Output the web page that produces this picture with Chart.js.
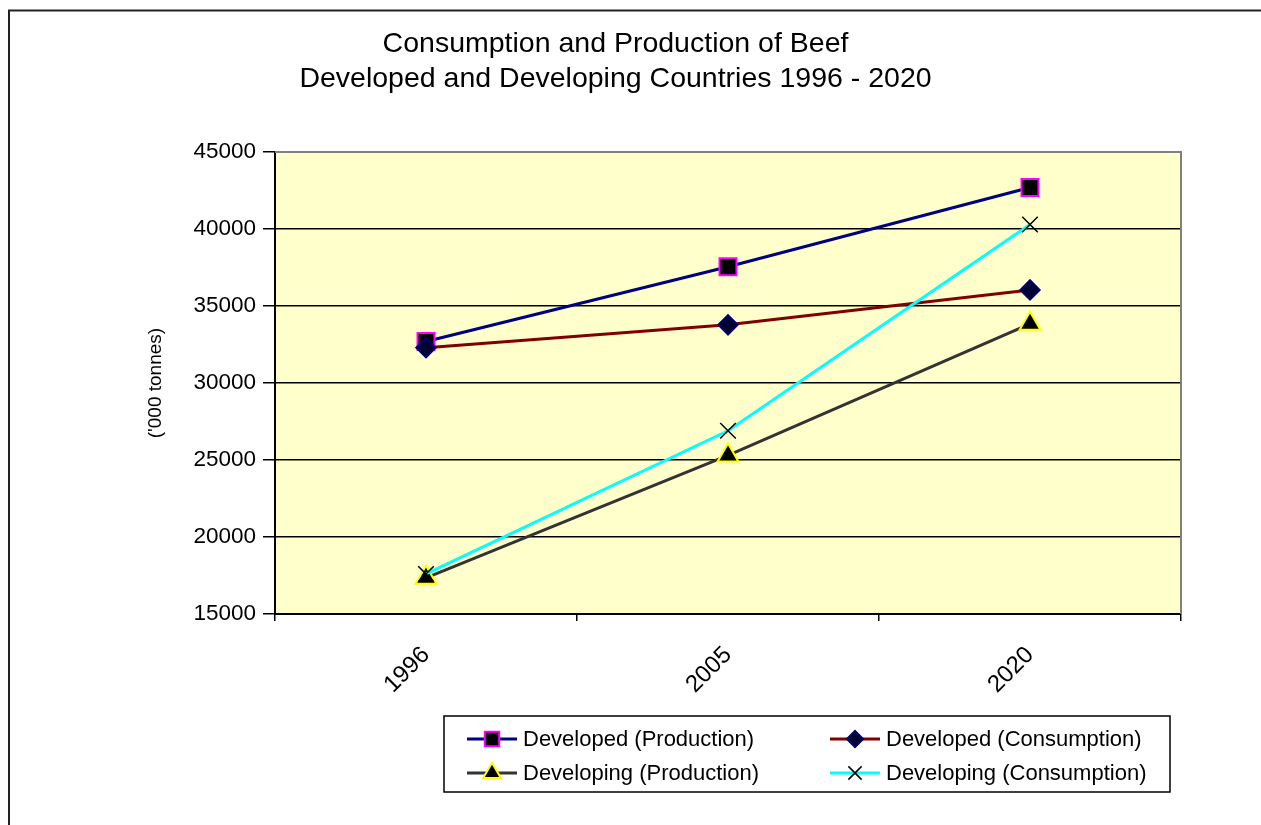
<!DOCTYPE html>
<html>
<head>
<meta charset="utf-8">
<script src="https://cdn.jsdelivr.net/npm/chart.js@4.4.1/dist/chart.umd.min.js"></script>
<style>
  html, body { margin: 0; padding: 0; background: #fff; }
  #wrap { width: 1261px; height: 825px; }
</style>
</head>
<body>
<div id="wrap"><canvas id="beefChart"></canvas></div>
<script>
const years = ["1996", "2005", "2020"];
const developedProduction = [32700, 37550, 42700];
const developedConsumption = [32300, 33780, 36050];
const developingProduction = [17350, 25300, 33850];
const developingConsumption = [17600, 26900, 40300];
const yTickValues = [15000, 20000, 25000, 30000, 35000, 40000, 45000];
const seriesNames = ["Developed (Production)", "Developed (Consumption)", "Developing (Production)", "Developing (Consumption)"];

const FONT = "'Liberation Sans', Arial, sans-serif";
Chart.defaults.font.family = FONT;
Chart.defaults.color = "#000";

// plot background, outer frame, grey top/right border
const frame = {
  id: "frame",
  beforeDraw(chart) {
    const { ctx, chartArea: a } = chart;
    ctx.save();
    ctx.fillStyle = "#FFFFCC";
    ctx.fillRect(a.left, a.top, a.right - a.left, a.bottom - a.top);
    ctx.strokeStyle = "#222";
    ctx.lineWidth = 2;
    ctx.beginPath();
    ctx.moveTo(9, chart.height);
    ctx.lineTo(9, 10.5);
    ctx.lineTo(chart.width, 10.5);
    ctx.stroke();
    ctx.restore();
  },
  beforeDatasetsDraw(chart) {
    const { ctx, chartArea: a } = chart;
    ctx.save();
    ctx.strokeStyle = "#808080";
    ctx.lineWidth = 2;
    ctx.beginPath();
    ctx.moveTo(a.left, a.top);
    ctx.lineTo(a.right, a.top);
    ctx.lineTo(a.right, a.bottom);
    ctx.stroke();
    ctx.restore();
  }
};

// boxed two-column legend like the spreadsheet one
const boxLegend = {
  id: "boxLegend",
  afterDraw(chart) {
    const { ctx } = chart;
    const box = { x: 444, y: 716, w: 726, h: 76 };
    const cols = [467, 830];
    const rows = [739, 773];
    ctx.save();
    ctx.strokeStyle = "#000";
    ctx.lineWidth = 1.5;
    ctx.strokeRect(box.x, box.y, box.w, box.h);
    chart.data.datasets.forEach((ds, i) => {
      const x = cols[i % 2];
      const y = rows[Math.floor(i / 2)];
      ctx.strokeStyle = ds.borderColor;
      ctx.lineWidth = 3;
      ctx.beginPath();
      ctx.moveTo(x, y);
      ctx.lineTo(x + 50, y);
      ctx.stroke();
      ctx.fillStyle = ds.pointBackgroundColor;
      ctx.strokeStyle = ds.pointBorderColor;
      ctx.lineWidth = ds.pointBorderWidth;
      Chart.helpers.drawPoint(ctx, {
        pointStyle: ds.pointStyle,
        radius: ds.pointRadius * 0.85,
        rotation: 0,
        borderWidth: ds.pointBorderWidth
      }, x + 25, y);
      ctx.fillStyle = "#000";
      ctx.font = "22px " + FONT;
      ctx.textBaseline = "middle";
      ctx.textAlign = "left";
      ctx.fillText(ds.label, x + 56, y + 1);
    });
    ctx.restore();
  }
};

new Chart(document.getElementById("beefChart"), {
  type: "line",
  data: {
    labels: years,
    datasets: [
      {
        label: seriesNames[0],
        data: developedProduction,
        borderColor: "#000080",
        borderWidth: 3,
        pointStyle: "rect",
        pointRadius: 12,
        pointBackgroundColor: "#000",
        pointBorderColor: "#FF00FF",
        pointBorderWidth: 2,
        order: 3
      },
      {
        label: seriesNames[1],
        data: developedConsumption,
        borderColor: "#800000",
        borderWidth: 3,
        pointStyle: "rectRot",
        pointRadius: 10,
        pointBackgroundColor: "#000033",
        pointBorderColor: "#000080",
        pointBorderWidth: 1.5,
        order: 2
      },
      {
        label: seriesNames[2],
        data: developingProduction,
        borderColor: "#333333",
        borderWidth: 3,
        pointStyle: "triangle",
        pointRadius: 12,
        pointBackgroundColor: "#000",
        pointBorderColor: "#FFFF00",
        pointBorderWidth: 2,
        order: 1
      },
      {
        label: seriesNames[3],
        data: developingConsumption,
        borderColor: "#00FFFF",
        borderWidth: 3,
        pointStyle: "crossRot",
        pointRadius: 11,
        pointBackgroundColor: "#000",
        pointBorderColor: "#000",
        pointBorderWidth: 1.5,
        order: 0
      }
    ]
  },
  options: {
    responsive: true,
    maintainAspectRatio: false,
    animation: false,
    events: [],
    layout: { padding: { left: 50, right: 80, top: 0, bottom: 125 } },
    elements: { line: { tension: 0 } },
    plugins: {
      legend: { display: false },
      tooltip: { enabled: false },
      title: {
        display: true,
        text: ["Consumption and Production of Beef", "Developed and Developing Countries 1996 - 2020"],
        color: "#000",
        font: { size: 28.5, weight: "normal", lineHeight: 1.23 },
        padding: { top: 27, bottom: 55 }
      }
    },
    scales: {
      x: {
        offset: true,
        grid: { offset: true, drawOnChartArea: false, drawTicks: true, tickLength: 7, color: "#000", lineWidth: 1.5 },
        border: { color: "#000", width: 2 },
        ticks: { minRotation: 45, maxRotation: 45, padding: 20, font: { size: 24 }, color: "#000" },
        afterFit(scale) { scale.height = 86; }
      },
      y: {
        min: 15000,
        max: 45000,
        afterBuildTicks(scale) { scale.ticks = yTickValues.map(v => ({ value: v })); },
        grid: { color: "#000", lineWidth: 1.5, tickLength: 12 },
        border: { color: "#000", width: 2 },
        ticks: { padding: 7, font: { size: 22.5 }, color: "#000", callback: v => String(v) },
        title: { display: true, text: "('000 tonnes)", font: { size: 19 }, color: "#000", padding: { top: 94 } },
        afterFit(scale) { scale.width = 225; }
      }
    }
  },
  plugins: [frame, boxLegend]
});
</script>
</body>
</html>
